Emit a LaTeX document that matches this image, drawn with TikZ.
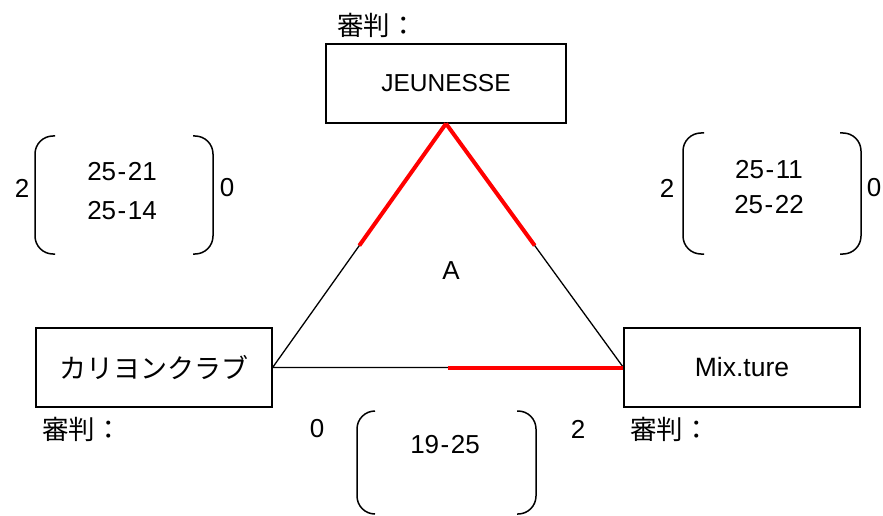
\documentclass[tikz,border=0pt]{standalone}
\usepackage{fontspec}
\setmainfont{Liberation Sans}
\newfontfamily\jp{Noto Sans CJK JP}
\usetikzlibrary{calc}

\newcommand{\marcador}[2]{#1\kern1.5pt-\kern1.5pt#2}

\tikzset{
  equipo/.style={draw=black, line width=1.2pt, minimum width=236pt, minimum height=79pt, inner sep=0pt, font=\fontsize{25}{30}\selectfont},
  texto/.style={inner sep=0pt, font=\fontsize{26}{30}\selectfont},
  textojp/.style={inner sep=0pt, anchor=west, font=\jp\fontsize{26.5}{30}\selectfont},
  parentesis/.style={line width=1.5pt, rounded corners=18pt},
  lado/.style={black, line width=1.3pt},
  rojo/.style={red, line width=4pt},
}

\begin{document}
\begin{tikzpicture}[x=1pt, y=-1pt]
            \useasboundingbox (0,0) rectangle (883,516);

            % Equipos
            \node[equipo, minimum width=240pt, font=\fontsize{24.5}{30}\selectfont] (jeunesse) at (446,83.5) {JEUNESSE};
            \node[equipo, font=\jp\fontsize{27}{30}\selectfont] (carillon) at (154,367.5) {カリヨンクラブ};
            \node[equipo, font=\fontsize{26.5}{30}\selectfont] (mixture) at (742,367.5) {Mix.ture};

            % Arbitros
            \node[textojp] (arbitroA) at (337,25) {審判：};
            \node[textojp] (arbitroB) at (42,429) {審判：};
            \node[textojp] (arbitroC) at (630,429) {審判：};

            % Triangulo
            \draw[lado] (jeunesse.south) -- (carillon.east) -- (mixture.west) -- cycle;
            % Lineas rojas (ganador)
            \draw[rojo] (jeunesse.south) -- ($(jeunesse.south)!0.5!(carillon.east)$);
            \draw[rojo] (jeunesse.south) -- ($(jeunesse.south)!0.5!(mixture.west)$);
            \draw[rojo] (mixture.west) -- ($(mixture.west)!0.5!(carillon.east)$);
            \node[texto] (grupo) at (451,271) {A};

            % Parentesis
            \draw[parentesis] (55,136) -- (35,136) -- (35,254) -- (55,254);
            \draw[parentesis] (193,136) -- (213,136) -- (213,254) -- (193,254);
            \draw[parentesis] (704,133) -- (683,133) -- (683,254) -- (704,254);
            \draw[parentesis] (840,133) -- (861,133) -- (861,254) -- (840,254);
            \draw[parentesis] (375,411) -- (357,411) -- (357,514) -- (375,514);
            \draw[parentesis] (517,411) -- (536,411) -- (536,514) -- (517,514);

            % Resultados
            \node[texto] (setsJC) at (22,188) {2};
            \node[texto] (setsCJ) at (227,188) {0};
            \node[texto] (puntosJC1) at (122,172) {\marcador{25}{21}};
            \node[texto] (puntosJC2) at (122,211) {\marcador{25}{14}};
            \node[texto] (setsJM) at (667,188) {2};
            \node[texto] (setsMJ) at (874,188) {0};
            \node[texto] (puntosJM1) at (769,170) {\marcador{25}{11}};
            \node[texto] (puntosJM2) at (769,205) {\marcador{25}{22}};
            \node[texto] (setsCM) at (317,429) {0};
            \node[texto] (setsMC) at (578,429) {2};
            \node[texto] (puntosCM) at (445,445) {\marcador{19}{25}};
        \end{tikzpicture}
\end{document}
